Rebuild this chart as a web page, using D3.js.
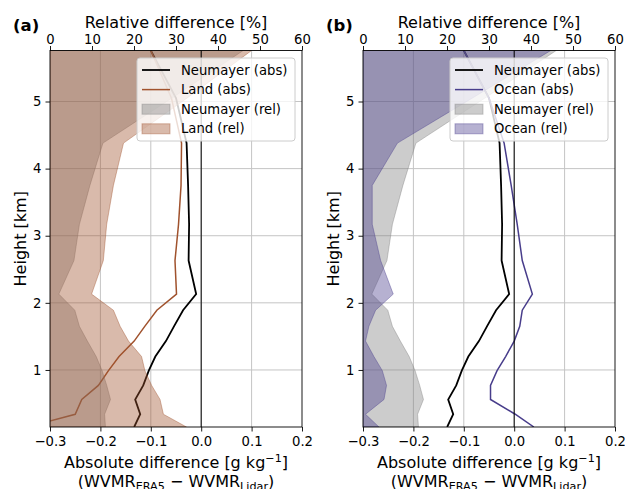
<!DOCTYPE html>
<html>
<head>
<meta charset="utf-8">
<script src="https://cdn.jsdelivr.net/npm/d3@7"></script>
<style>
  body { margin: 0; background: #fff; }
  text { font-family: "DejaVu Sans", sans-serif; fill: #000; }
  .tick text { font-size: 13.2px; }
  .tick line { stroke: #000; stroke-width: 0.9; }
  .domain { stroke: none; }
</style>
</head>
<body>
<div id="chart"></div>
<script>
// heights of the ERA5 levels [km]
var heights = [0.15, 0.34, 0.56, 0.77, 0.99, 1.2, 1.43, 1.65, 1.89, 2.13, 2.63, 3.17, 3.75, 4.38, 5.05, 5.76];

// absolute differences [g/kg]
var neumayerAbs = [-0.133, -0.121, -0.131, -0.115, -0.104, -0.091, -0.07, -0.054, -0.036, -0.01, -0.025, -0.024, -0.026, -0.029, -0.05, -0.1];
var landAbs = [-0.345, -0.25, -0.237, -0.204, -0.184, -0.163, -0.133, -0.112, -0.088, -0.049, -0.052, -0.045, -0.04, -0.039, -0.059, -0.1];
var oceanAbs = [0.039, 0.002, -0.047, -0.047, -0.034, -0.017, 0.0, 0.011, 0.016, 0.036, 0.016, 0.006, -0.006, -0.02, -0.05, -0.1];

// relative differences [%]
var neumayerRel = [13.2, 13.0, 14.4, 13.5, 12.4, 11.0, 8.9, 7.0, 5.9, 2.1, 5.7, 7.0, 9.5, 12.6, 29, 46];
var landRel = [32.5, 27, 26.2, 24.2, 22.6, 21.8, 18.7, 16.7, 15.1, 9.9, 12.7, 13.5, 15.1, 17.5, 32.6, 48];
var oceanRel = [3.8, 0.6, 5.0, 5.6, 4.6, 2.6, 0.6, 1.4, 3.0, 7.2, 4.2, 2.2, 2.2, 8.2, 26, 44.7];

var absTicks = [-0.3, -0.2, -0.1, 0.0, 0.1, 0.2];
var relTicks = [0, 10, 20, 30, 40, 50, 60];
var heightTicks = [1, 2, 3, 4, 5];

var panels = [
  {label: "(a)", name: "Land", color: "#a0522d", abs: landAbs, rel: landRel, left: 50},
  {label: "(b)", name: "Ocean", color: "#483d8b", abs: oceanAbs, rel: oceanRel, left: 363}
];

var width = 625, height = 489,
    plotW = 252, plotTop = 50.5, plotBottom = 427;

var svg = d3.select("#chart").append("svg")
    .attr("width", width)
    .attr("height", height);

panels.forEach(function(p, i) { drawPanel(p, i); });

function drawPanel(p, idx) {
  var h = plotBottom - plotTop;
  var x = d3.scaleLinear().domain([-0.3, 0.2]).range([0, plotW]),
      xr = d3.scaleLinear().domain([0, 60]).range([0, plotW]),
      y = d3.scaleLinear().domain([0.15, 5.76]).range([h, 0]);

  var g = svg.append("g")
      .attr("transform", "translate(" + p.left + "," + plotTop + ")");

  var clipId = "clip" + idx;
  g.append("clipPath").attr("id", clipId)
    .append("rect").attr("width", plotW).attr("height", h);

  // grid
  var grid = g.append("g").attr("stroke", "#c4c4c4").attr("stroke-width", 1);
  grid.selectAll(".gx").data(absTicks.slice(1, -1)).enter().append("line")
      .attr("x1", function(d) { return x(d); }).attr("x2", function(d) { return x(d); })
      .attr("y1", 0).attr("y2", h);
  grid.selectAll(".gy").data(heightTicks).enter().append("line")
      .attr("y1", function(d) { return y(d); }).attr("y2", function(d) { return y(d); })
      .attr("x1", 0).attr("x2", plotW);

  var plot = g.append("g").attr("clip-path", "url(#" + clipId + ")");

  var absLine = function(vals) {
    return d3.line()
      .x(function(d, j) { return x(vals[j]); })
      .y(function(d) { return y(d); })(heights);
  };

  plot.append("path").attr("d", absLine(neumayerAbs))
      .attr("fill", "none").attr("stroke", "#000").attr("stroke-width", 1.8);
  plot.append("path").attr("d", absLine(p.abs))
      .attr("fill", "none").attr("stroke", p.color).attr("stroke-width", 1.5);

  // zero line
  g.append("line")
      .attr("x1", x(0)).attr("x2", x(0)).attr("y1", 0).attr("y2", h)
      .attr("stroke", "#000").attr("stroke-width", 1);

  // relative differences (twin axis, drawn on top)
  var area = function(vals) {
    return d3.area()
      .x0(xr(0))
      .x1(function(d, j) { return xr(vals[j]); })
      .y(function(d) { return y(d); })(heights);
  };
  plot.append("path").attr("d", area(neumayerRel))
      .attr("fill", "gray").attr("fill-opacity", 0.4)
      .attr("stroke", "gray").attr("stroke-opacity", 0.4).attr("stroke-width", 1);
  plot.append("path").attr("d", area(p.rel))
      .attr("fill", p.color).attr("fill-opacity", 0.4)
      .attr("stroke", p.color).attr("stroke-opacity", 0.4).attr("stroke-width", 1);

  // frame
  g.append("rect").attr("width", plotW).attr("height", h)
      .attr("fill", "none").attr("stroke", "#000").attr("stroke-width", 0.9);

  // axes
  g.append("g").attr("transform", "translate(0," + h + ")")
      .call(d3.axisBottom(x).tickValues(absTicks).tickFormat(d3.format(".1f")).tickSize(4.5).tickPadding(5.5));
  g.append("g")
      .call(d3.axisTop(xr).tickValues(relTicks).tickFormat(d3.format("d")).tickSize(4.5).tickPadding(2.5));
  g.append("g")
      .call(d3.axisLeft(y).tickValues(heightTicks).tickFormat(d3.format("d")).tickSize(4.5).tickPadding(4));

  // labels
  g.append("text").attr("x", plotW / 2).attr("y", -23)
      .attr("text-anchor", "middle").style("font-size", "16px")
      .text("Relative difference [%]");

  var xl = g.append("text").attr("x", plotW / 2).attr("y", h + 41)
      .attr("text-anchor", "middle").style("font-size", "16px");
  xl.append("tspan").text("Absolute difference [g kg");
  xl.append("tspan").attr("dy", -6).style("font-size", "11.2px").text("\u22121");
  xl.append("tspan").attr("dy", 6).text("]");

  var xl2 = g.append("text").attr("x", plotW / 2).attr("y", h + 59.5)
      .attr("text-anchor", "middle").style("font-size", "16px");
  xl2.append("tspan").text("(WVMR");
  xl2.append("tspan").attr("dy", 3).style("font-size", "11.2px").text("ERA5");
  xl2.append("tspan").attr("dy", -3).text(" \u2212 WVMR");
  xl2.append("tspan").attr("dy", 3).style("font-size", "11.2px").text("Lidar");
  xl2.append("tspan").attr("dy", -3).text(")");

  g.append("text")
      .attr("transform", "translate(-24," + (h / 2) + ")rotate(-90)")
      .attr("text-anchor", "middle").style("font-size", "16px")
      .text("Height [km]");

  g.append("text").attr("x", -37).attr("y", -20)
      .style("font-size", "16.5px").style("font-weight", "bold")
      .text(p.label);

  // legend
  var items = [
    {text: "Neumayer (abs)", type: "line", color: "#000", w: 1.8},
    {text: p.name + " (abs)", type: "line", color: p.color, w: 1.5},
    {text: "Neumayer (rel)", type: "patch", color: "gray"},
    {text: p.name + " (rel)", type: "patch", color: p.color}
  ];
  var lg = g.append("g").attr("transform", "translate(" + (plotW - 165) + ",7.5)");
  lg.append("rect").attr("width", 158).attr("height", 83).attr("rx", 3)
      .attr("fill", "#fff").attr("fill-opacity", 0.8)
      .attr("stroke", "#cccccc").attr("stroke-width", 1);
  var row = lg.selectAll(".item").data(items).enter().append("g")
      .attr("transform", function(d, j) { return "translate(0," + (12 + j * 19.6) + ")"; });
  row.filter(function(d) { return d.type === "line"; }).append("line")
      .attr("x1", 5).attr("x2", 33)
      .attr("stroke", function(d) { return d.color; })
      .attr("stroke-width", function(d) { return d.w; });
  row.filter(function(d) { return d.type === "patch"; }).append("rect")
      .attr("x", 5).attr("y", -5).attr("width", 28).attr("height", 10)
      .attr("fill", function(d) { return d.color; }).attr("fill-opacity", 0.4)
      .attr("stroke", function(d) { return d.color; }).attr("stroke-opacity", 0.4);
  row.append("text").attr("x", 44).attr("dy", "0.35em")
      .style("font-size", "13.2px")
      .text(function(d) { return d.text; });
}
</script>
</body>
</html>
